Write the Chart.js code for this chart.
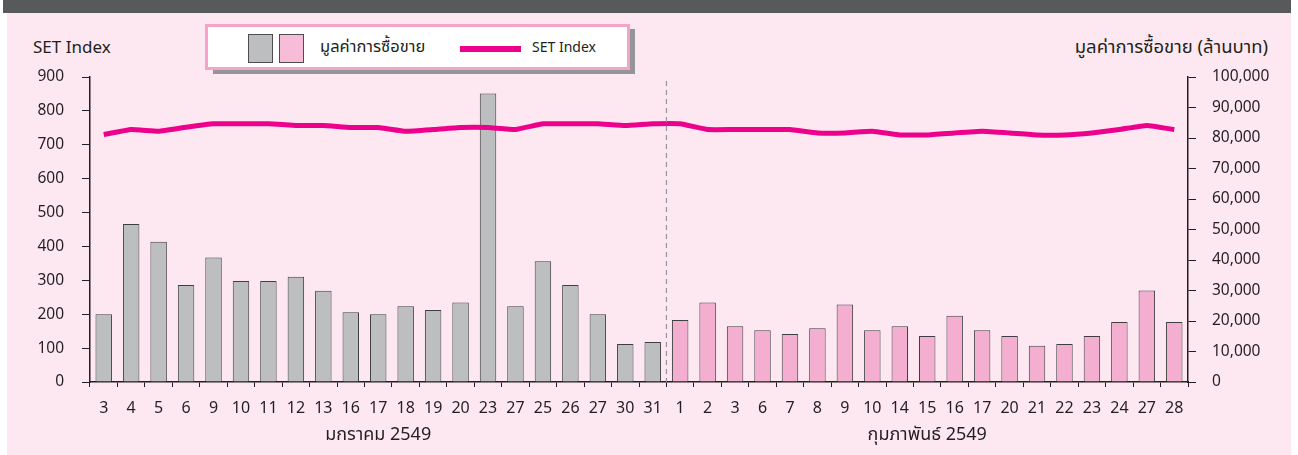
<!DOCTYPE html>
<html>
<head>
<meta charset="utf-8">
<script src="https://cdn.jsdelivr.net/npm/chart.js@4"></script>
<style>
  body { margin: 0; width: 1298px; height: 455px; overflow: hidden; background: #ffffff; font-family: "Noto Sans", "Noto Sans Thai", sans-serif; color: #231f20; }
  #top { position: absolute; left: 3px; top: 0; width: 1288px; height: 13px; background: #58595b; }
  #panel { position: absolute; left: 7px; top: 13px; width: 1284px; height: 442px; background: #fde8f1; }
  #wrap { position: absolute; left: 0; top: 0; width: 1298px; height: 455px; }
  .lbl { position: absolute; font-size: 17px; white-space: nowrap; line-height: 20px; }
  #legShadow { position: absolute; left: 213px; top: 29px; width: 422px; height: 45px; background: #939598; }
  #legend { position: absolute; left: 205px; top: 24px; width: 419px; height: 40px; background: #fff; border: 3px solid #f5a3c9; }
  .sw { position: absolute; top: 7px; width: 23px; height: 27px; border: 1px solid #4d4d4f; }
</style>
</head>
<body>
<div id="top"></div>
<div id="panel"></div>
<div id="legShadow"></div>
<div id="legend">
  <div class="sw" style="left:40px;background:#bcbec0"></div>
  <div class="sw" style="left:71px;background:#f7bcd8"></div>
  <div class="lbl" style="left:112px;top:9px;font-size:16.5px">มูลค่าการซื้อขาย</div>
  <div style="position:absolute;left:252px;top:19px;width:61px;height:6px;background:#ec008c"></div>
  <div class="lbl" style="left:324px;top:10px;font-size:14px">SET Index</div>
</div>
<div class="lbl" style="left:33px;top:37px">SET Index</div>
<div class="lbl" style="right:30px;top:36px;font-size:18.5px">มูลค่าการซื้อขาย (ล้านบาท)</div>
<div id="wrap"><canvas id="myChart" width="1298" height="455"></canvas></div>
<script>
// วันทำการ
const janDays = ["3", "4", "5", "6", "9", "10", "11", "12", "13", "16", "17", "18", "19", "20", "23", "27", "25", "26", "27", "30", "31"];
const febDays = ["1", "2", "3", "6", "7", "8", "9", "10", "14", "15", "16", "17", "20", "21", "22", "23", "24", "27", "28"];

// มูลค่าการซื้อขาย (ล้านบาท)
const janValue = [22200, 51800, 46000, 31800, 40800, 33100, 33100, 34500, 29900, 22900, 22200, 24800, 23600, 26100, 94600, 24800, 39600, 31800, 22200, 12500, 13100];
const febValue = [20300, 26100, 18300, 17000, 15700, 17600, 25400, 17000, 18300, 15100, 21700, 17000, 15100, 11900, 12500, 15100, 19700, 30000, 19700];

// SET Index
const janSet = [730, 745, 740, 752, 762, 762, 762, 757, 757, 751, 751, 740, 745, 751, 751, 745, 762, 762, 762, 757, 762];
const febSet = [762, 745, 745, 745, 745, 735, 735, 740, 729, 729, 735, 740, 735, 729, 729, 735, 745, 757, 745];

const leftTicks = [0, 100, 200, 300, 400, 500, 600, 700, 800, 900];
const rightTicks = [0, 10000, 20000, 30000, 40000, 50000, 60000, 70000, 80000, 90000, 100000];
const monthNames = ["มกราคม 2549", "กุมภาพันธ์ 2549"];

const labels = janDays.concat(febDays);
const barColors = janDays.map(() => "#bcbec0").concat(febDays.map(() => "#f4aecf"));
const ink = "#231f20";
const tickFont = { family: '"Noto Sans", "Noto Sans Thai", sans-serif', size: 15.5 };

// เส้นประแบ่งเดือน + ชื่อเดือนใต้แกน
const monthPlugin = {
  id: "monthPlugin",
  afterDatasetsDraw(chart) {
    const ctx = chart.ctx;
    const x = chart.scales.x;
    const area = chart.chartArea;
    const split = (x.getPixelForValue(janDays.length - 1) + x.getPixelForValue(janDays.length)) / 2;
    ctx.save();
    ctx.strokeStyle = "#939598";
    ctx.lineWidth = 1.2;
    ctx.setLineDash([5, 4]);
    ctx.beginPath();
    ctx.moveTo(split, area.top + 4);
    ctx.lineTo(split, area.bottom);
    ctx.stroke();
    ctx.setLineDash([]);
    ctx.fillStyle = ink;
    ctx.font = '18px "Noto Sans", "Noto Sans Thai", sans-serif';
    ctx.textAlign = "center";
    ctx.textBaseline = "middle";
    const janMid = (x.getPixelForValue(0) + x.getPixelForValue(janDays.length - 1)) / 2;
    const febMid = (x.getPixelForValue(janDays.length) + x.getPixelForValue(labels.length - 1)) / 2;
    ctx.fillText(monthNames[0], janMid, area.bottom + 53);
    ctx.fillText(monthNames[1], febMid, area.bottom + 53);
    ctx.restore();
  }
};

const config = {
  data: {
    labels: labels,
    datasets: [
      {
        type: "line",
        label: "SET Index",
        data: janSet.concat(febSet),
        yAxisID: "y",
        borderColor: "#ec008c",
        borderWidth: 5,
        pointRadius: 0,
        tension: 0.1,
        order: 0
      },
      {
        type: "bar",
        label: "มูลค่าการซื้อขาย",
        data: janValue.concat(febValue),
        yAxisID: "y1",
        backgroundColor: barColors,
        borderColor: "#3f3f41",
        borderWidth: 1,
        borderSkipped: "bottom",
        barPercentage: 0.6,
        categoryPercentage: 1,
        order: 1
      }
    ]
  },
  options: {
    responsive: false,
    animation: false,
    layout: { padding: { top: 77, left: 0, right: 0, bottom: 0 } },
    plugins: { legend: { display: false }, tooltip: { enabled: false } },
    scales: {
      x: {
        offset: true,
        grid: { offset: true, drawOnChartArea: false, drawTicks: true, tickLength: 5, color: ink, lineWidth: 1 },
        border: { color: ink, width: 1.5 },
        ticks: { color: ink, font: { family: tickFont.family, size: 16 }, padding: 12, maxRotation: 0, autoSkip: false },
        afterFit: (s) => { s.height = 73; }
      },
      y: {
        position: "left",
        min: 0,
        max: 900,
        afterBuildTicks: (s) => { s.ticks = leftTicks.map((v) => ({ value: v })); },
        grid: { drawOnChartArea: false, tickLength: 8, color: ink },
        border: { color: ink, width: 1.5 },
        ticks: { color: ink, font: tickFont, padding: 18 },
        afterFit: (s) => { s.width = 90; }
      },
      y1: {
        position: "right",
        min: 0,
        max: 100000,
        afterBuildTicks: (s) => { s.ticks = rightTicks.map((v) => ({ value: v })); },
        grid: { drawOnChartArea: false, tickLength: 8, color: ink },
        border: { color: ink, width: 1.5 },
        ticks: { color: ink, font: tickFont, padding: 16, callback: (v) => v.toLocaleString("en-US") },
        afterFit: (s) => { s.width = 110; }
      }
    }
  },
  plugins: [monthPlugin]
};

new Chart(document.getElementById("myChart"), config);
</script>
</body>
</html>
